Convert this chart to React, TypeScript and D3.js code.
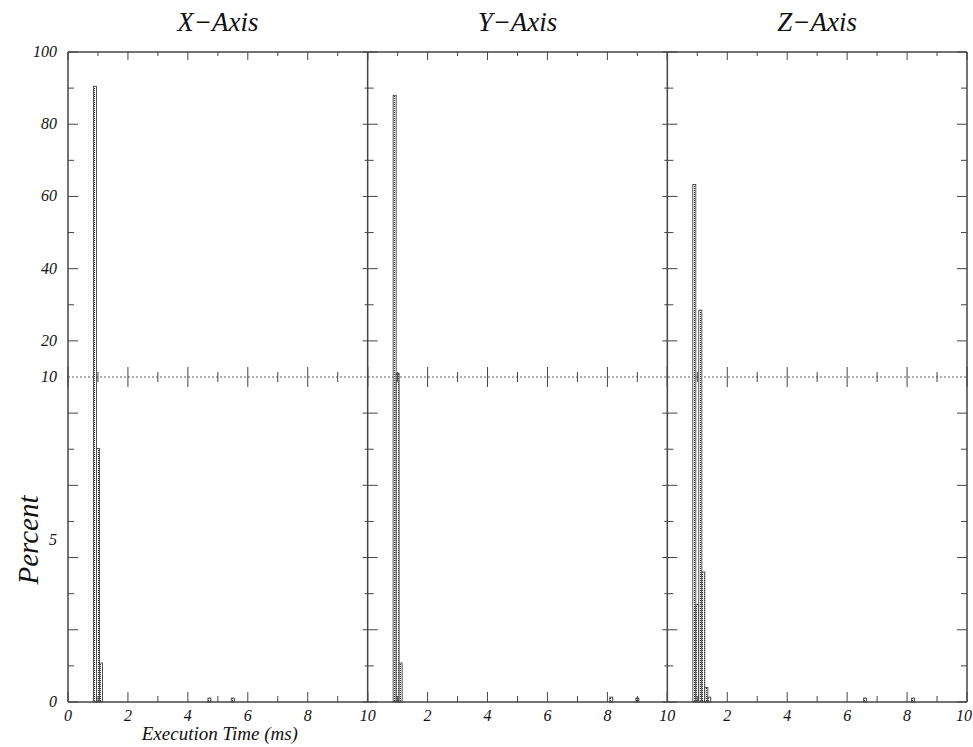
import React from "react";
import * as d3 from "d3";

// ---- data ----
const panelTitles = ["X\u2212Axis", "Y\u2212Axis", "Z\u2212Axis"];
const binWidth = 0.1;
const xAxisBins = [0.85, 0.95, 1.05, 4.67, 5.45];
const xAxisValues = [90.5, 7.8, 1.2, 0.12, 0.12];
const yAxisBins = [0.85, 0.95, 1.05, 8.08, 8.95];
const yAxisValues = [88, 11, 1.2, 0.15, 0.12];
const zAxisBins = [0.85, 0.95, 1.05, 1.15, 1.25, 1.35, 6.55, 8.15];
const zAxisValues = [63.3, 3.0, 28.5, 4.0, 0.45, 0.15, 0.12, 0.12];
const xTickValues = [0, 1, 2, 3, 4, 5, 6, 7, 8, 9, 10];
const xTickLabels = [0, 2, 4, 6, 8, 10];
const yHighLabels = [20, 40, 60, 80, 100];
const yLowLabels = [0, 5, 10];
const xLabel = "Execution Time (ms)";
const yLabel = "Percent";

const W = 973;
const H = 747;
const left = 68;
const right = 967;
const top = 52;
const bottom = 702;
const mid = (top + bottom) / 2;
const panelW = (right - left) / 3;
const FONT = "'Liberation Serif', 'Times New Roman', serif";
const AXIS = "#444";

const yLow = d3.scaleLinear().domain([0, 10]).range([bottom, mid]);
const yHigh = d3.scaleLinear().domain([10, 100]).range([mid, top]);
const yv = (v: number) => (v <= 10 ? yLow(v) : yHigh(v));

const yTicks = [
  ...d3.range(10, 101, 10).map((v) => yHigh(v)),
  ...d3.range(0, 9).map((k) => yLow((k * 10) / 9)),
].sort((a, b) => a - b);

const panels = [
  { bins: xAxisBins, values: xAxisValues },
  { bins: yAxisBins, values: yAxisValues },
  { bins: zAxisBins, values: zAxisValues },
];

export default function App() {
  return (
    <svg width={W} height={H} style={{ position: "absolute", left: 0, top: 0, background: "white" }}>
      <defs>
        <pattern id="dots" width={2} height={2} patternUnits="userSpaceOnUse">
          <rect width={2} height={2} fill="white" />
          <rect width={1} height={1} fill="#333" />
        </pattern>
      </defs>
      <rect x={0} y={0} width={W} height={H} fill="white" />

      {/* dotted line at 10 */}
      <line x1={left} x2={right} y1={mid} y2={mid} stroke="#333" strokeWidth={0.8} strokeDasharray="2,2" />

      {panels.map((p, pi) => {
        const x0 = left + pi * panelW;
        const x = d3.scaleLinear().domain([0, 10]).range([x0, x0 + panelW]);
        return (
          <g key={pi}>
            {/* bars */}
            {p.bins.map((b, i) => {
              const v = p.values[i];
              const yTop = yv(v);
              return (
                <rect
                  key={i}
                  x={x(b)}
                  y={yTop}
                  width={x(b + binWidth) - x(b)}
                  height={bottom - yTop}
                  fill="url(#dots)"
                  stroke="#444"
                  strokeWidth={0.9}
                />
              );
            })}
            {/* x ticks */}
            {xTickValues.map((t) => {
              const major = t % 2 === 0;
              const L = major ? 10 : 6;
              const xx = x(t);
              return (
                <g key={t} stroke={AXIS} strokeWidth={1}>
                  <line x1={xx} x2={xx} y1={bottom} y2={bottom - L} />
                  <line x1={xx} x2={xx} y1={top} y2={top + (major ? 8 : 4)} />
                  <line x1={xx} x2={xx} y1={mid - (major ? 10 : 5)} y2={mid + (major ? 10 : 5)} />
                </g>
              );
            })}
            {/* x tick labels */}
            {xTickLabels
              .filter((t) => pi === 0 || t !== 0)
              .map((t) => (
                <text
                  key={t}
                  x={Math.min(x(t), W - 9)}
                  y={bottom + 19}
                  textAnchor="middle"
                  fontFamily={FONT}
                  fontStyle="italic"
                  fontSize={16}
                  fill="#111"
                >
                  {t}
                </text>
              ))}
            {/* title */}
            <text
              x={x(5)}
              y={31}
              textAnchor="middle"
              fontFamily={FONT}
              fontStyle="italic"
              fontSize={27}
              fill="#111"
            >
              {panelTitles[pi]}
            </text>
          </g>
        );
      })}

      {/* y ticks on left, separators, right */}
      {yTicks.map((yy, i) => {
        const major = i % 2 === 0;
        const L = major ? 10 : 6;
        if (Math.abs(yy - mid) < 0.5) return null;
        return (
          <g key={i} stroke={AXIS} strokeWidth={1}>
            <line x1={left} x2={left + L} y1={yy} y2={yy} />
            <line x1={left + panelW - L / 2} x2={left + panelW + L} y1={yy} y2={yy} />
            <line x1={left + 2 * panelW - L / 2} x2={left + 2 * panelW + L} y1={yy} y2={yy} />
            <line x1={right - L} x2={right} y1={yy} y2={yy} />
          </g>
        );
      })}

      {/* frame */}
      <g stroke={AXIS} strokeWidth={1.5} fill="none">
        <line x1={left} x2={left} y1={top} y2={bottom} />
        <line x1={right} x2={right} y1={top} y2={bottom} />
        <line x1={left} x2={right} y1={top} y2={top} />
        <line x1={left} x2={right} y1={bottom} y2={bottom} />
        <line x1={left + panelW} x2={left + panelW} y1={top} y2={bottom} />
        <line x1={left + 2 * panelW} x2={left + 2 * panelW} y1={top} y2={bottom} />
      </g>

      {/* y labels */}
      {yHighLabels.map((v) => (
        <text key={"h" + v} x={57} y={yHigh(v) + 5} textAnchor="end" fontFamily={FONT} fontStyle="italic" fontSize={16} fill="#111">
          {v}
        </text>
      ))}
      {yLowLabels.map((v) => (
        <text key={"l" + v} x={57} y={yLow(v) + 5} textAnchor="end" fontFamily={FONT} fontStyle="italic" fontSize={16} fill="#111">
          {v}
        </text>
      ))}

      {/* axis titles */}
      <text x={left + panelW / 2 + 2} y={740} textAnchor="middle" fontFamily={FONT} fontStyle="italic" fontSize={19} fill="#111">
        {xLabel}
      </text>
      <text
        transform={`translate(38, ${540}) rotate(-90)`}
        textAnchor="middle"
        fontFamily={FONT}
        fontStyle="italic"
        fontSize={29}
        fill="#111"
      >
        {yLabel}
      </text>
    </svg>
  );
}
